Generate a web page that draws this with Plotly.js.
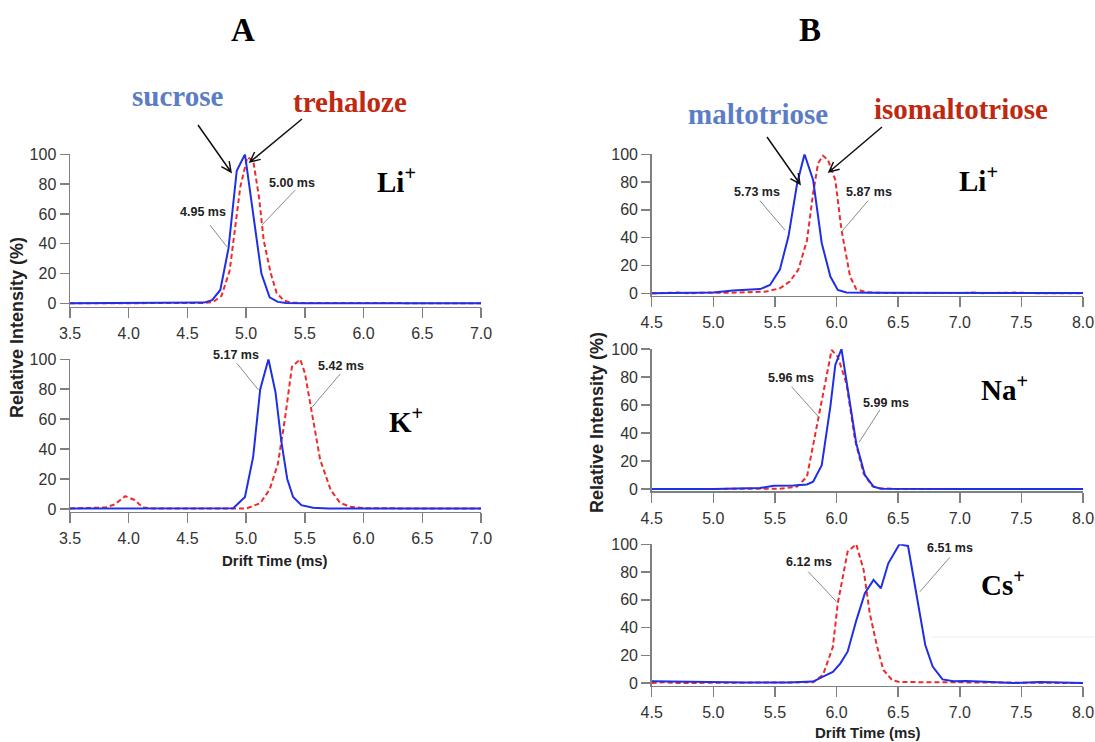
<!DOCTYPE html>
<html>
<head>
<meta charset="utf-8">
<script src="https://cdn.plot.ly/plotly-3.0.1.min.js"></script>
<style>html,body{margin:0;padding:0;background:#fff}#chart{width:1095px;height:742px}</style>
</head>
<body>
<div id="chart"></div>
<script>
// ---------- DATA ----------
// Panel A, Li+
const aLiSucroseX = [3.5, 4.0, 4.5, 4.64, 4.71, 4.78, 4.85, 4.92, 4.99, 5.06, 5.13, 5.20, 5.27, 5.34, 5.5, 6.0, 6.5, 7.0];
const aLiSucroseY = [0, 0, 0, 0.5, 2.2, 9, 37, 89, 100, 61, 20, 4, 1, 0.3, 0, 0, 0, 0];
const aLiTrehX = [3.5, 4.0, 4.5, 4.65, 4.72, 4.79, 4.86, 4.95, 5.01, 5.06, 5.11, 5.15, 5.21, 5.26, 5.32, 5.38, 5.5, 5.7, 5.9, 6.2, 6.6, 7.0];
const aLiTrehY = [0, 0, 0, 0.3, 1, 5, 22, 78, 98, 96, 71, 42, 20, 7, 2, 0.5, 0.2, 0.3, 0.4, 0.2, 0.1, 0];
// Panel A, K+
const aKSucroseX = [3.5, 4.0, 4.5, 4.89, 4.99, 5.06, 5.12, 5.19, 5.25, 5.30, 5.35, 5.40, 5.47, 5.57, 5.7, 6.0, 7.0];
const aKSucroseY = [0.3, 0.3, 0.3, 0.5, 8, 35, 80, 100, 78, 45, 20, 8, 2.5, 0.8, 0.3, 0.3, 0.3];
const aKTrehX = [3.5, 3.8, 3.88, 3.97, 4.05, 4.12, 4.2, 4.5, 5.0, 5.12, 5.20, 5.27, 5.33, 5.39, 5.46, 5.50, 5.56, 5.63, 5.72, 5.80, 5.89, 6.0, 6.5, 7.0];
const aKTrehY = [0.3, 1, 3, 8.5, 6, 1, 0.3, 0.3, 0.3, 3.8, 13, 30, 60, 95, 100, 91, 64, 33, 12.7, 4, 1.5, 0.5, 0.3, 0.3];
// Panel B, Li+
const bLiMaltX = [4.5, 4.8, 5.0, 5.16, 5.3, 5.38, 5.46, 5.54, 5.61, 5.68, 5.74, 5.81, 5.88, 5.95, 6.01, 6.08, 6.3, 6.6, 7.0, 7.5, 8.0];
const bLiMaltY = [0, 0.2, 0.5, 2, 2.5, 3, 6, 17, 41, 79, 100, 81.5, 36, 12, 2.4, 0.5, 0.3, 0.3, 0.3, 0.2, 0.2];
const bLiIsoX = [4.5, 4.7, 4.8, 4.95, 5.1, 5.3, 5.43, 5.54, 5.62, 5.69, 5.76, 5.81, 5.85, 5.89, 5.93, 5.99, 6.04, 6.11, 6.16, 6.24, 6.4, 7.0, 7.1, 7.2, 7.45, 7.6, 8.0];
const bLiIsoY = [0, 0.5, 0, 0.5, 0.3, 0.6, 1.2, 3.6, 8.4, 17, 38, 72, 93.5, 99, 96, 81.5, 45.6, 12, 3, 0.7, 0.2, 0.2, 0.5, 0.1, 0.5, 0.1, 0];
// Panel B, Na+
const bNaMaltX = [4.5, 5.0, 5.38, 5.49, 5.65, 5.76, 5.81, 5.88, 5.95, 5.99, 6.04, 6.09, 6.16, 6.23, 6.30, 6.36, 6.6, 7.0, 8.0];
const bNaMaltY = [0, 0, 0.7, 2.4, 2.6, 3.3, 5.2, 17, 59, 88.6, 100, 70.7, 32.6, 10, 1.7, 0.2, 0, 0, 0];
const bNaIsoX = [4.5, 5.5, 5.54, 5.68, 5.76, 5.84, 5.91, 5.96, 6.01, 6.08, 6.15, 6.22, 6.29, 6.35, 6.5, 8.0];
const bNaIsoY = [0, 0, 0.2, 1.7, 8.8, 45, 77, 99.3, 94.5, 75.5, 35, 11, 2, 0.5, 0, 0];
// Panel B, Cs+
const bCsMaltX = [4.5, 4.65, 4.81, 4.92, 5.27, 5.6, 5.81, 5.89, 5.97, 6.03, 6.09, 6.16, 6.23, 6.30, 6.36, 6.42, 6.51, 6.58, 6.65, 6.72, 6.78, 6.86, 6.95, 7.05, 7.16, 7.43, 7.65, 8.0];
const bCsMaltY = [1.2, 1, 0.5, 0.8, 0.3, 0.3, 1, 4.6, 8, 14, 22.6, 45, 64.7, 74.3, 68.3, 86.3, 100, 98.8, 62, 27.4, 11.8, 2.6, 1.2, 1.4, 1, 0, 0.7, 0];
const bCsIsoX = [4.5, 4.6, 4.7, 5.68, 5.81, 5.89, 5.97, 6.01, 6.09, 6.16, 6.22, 6.27, 6.33, 6.38, 6.45, 6.51, 7.0, 7.3, 7.7, 8.0];
const bCsIsoY = [0, 0.5, 0, 0, 0.5, 5.8, 26, 57.5, 94.7, 100, 81.5, 50, 26, 9.4, 2.2, 0.7, 0.5, 0.5, 0.3, 0];

// Peak drift-time labels
const peakLabels = ["4.95 ms", "5.00 ms", "5.17 ms", "5.42 ms", "5.73 ms", "5.87 ms", "5.96 ms", "5.99 ms", "6.12 ms", "6.51 ms"];
const ionLabels = ["Li<sup>+</sup>", "K<sup>+</sup>", "Li<sup>+</sup>", "Na<sup>+</sup>", "Cs<sup>+</sup>"];
const compoundLabels = ["sucrose", "trehaloze", "maltotriose", "isomaltotriose"];
const panelLabels = ["A", "B"];
const xTitle = "Drift Time (ms)";
const yTitle = "Relative Intensity (%)";

// ---------- STYLE / LAYOUT ----------
const W = 1095, H = 742;
const px = x => x / W;
const py = y => 1 - y / H;
const BLUE = '#1f2fe6', RED = '#ee2a2a';
const SANS = 'Liberation Sans, Arial, sans-serif';
const SERIF = 'Liberation Serif, Times New Roman, serif';

function blue(x, y, xa, ya) {
  return {x: x, y: y, xaxis: xa, yaxis: ya, type: 'scatter', mode: 'lines',
    line: {color: BLUE, width: 2}, hoverinfo: 'skip', showlegend: false, cliponaxis: false};
}
function red(x, y, xa, ya) {
  return {x: x, y: y, xaxis: xa, yaxis: ya, type: 'scatter', mode: 'lines',
    line: {color: RED, width: 2, dash: '5px,3px'}, hoverinfo: 'skip', showlegend: false, cliponaxis: false};
}

const traces = [
  red(aLiTrehX, aLiTrehY, 'x', 'y'), blue(aLiSucroseX, aLiSucroseY, 'x', 'y'),
  red(aKTrehX, aKTrehY, 'x2', 'y2'), blue(aKSucroseX, aKSucroseY, 'x2', 'y2'),
  red(bLiIsoX, bLiIsoY, 'x3', 'y3'), blue(bLiMaltX, bLiMaltY, 'x3', 'y3'),
  red(bNaIsoX, bNaIsoY, 'x4', 'y4'), blue(bNaMaltX, bNaMaltY, 'x4', 'y4'),
  red(bCsIsoX, bCsIsoY, 'x5', 'y5'), blue(bCsMaltX, bCsMaltY, 'x5', 'y5')
];

const tickFont = {family: SANS, size: 16, color: '#333'};
function xax(domain, range, anchor) {
  return {domain: domain, range: range, anchor: anchor, dtick: 0.5, tick0: 0, tickformat: '.1f',
    showline: true, linecolor: '#808080', linewidth: 1.5, ticks: 'outside', ticklen: 10,
    tickcolor: '#808080', tickwidth: 1.5, showgrid: false, zeroline: false, tickfont: tickFont,
    ticklabelstandoff: 2};
}
function yax(domain, range, anchor) {
  return {domain: domain, range: range, anchor: anchor, tickvals: [0, 20, 40, 60, 80, 100],
    showline: true, linecolor: '#808080', linewidth: 1.5, ticks: 'outside', ticklen: 9,
    tickcolor: '#808080', tickwidth: 1.5, showgrid: false, zeroline: false, tickfont: tickFont};
}

const axA = [px(70), px(481)];
const axB = [px(651.7), px(1083)];

const layout = {
  width: W, height: H, margin: {l: 0, r: 0, t: 0, b: 0},
  paper_bgcolor: '#fff', plot_bgcolor: 'rgba(0,0,0,0)', showlegend: false,
  xaxis: xax(axA, [3.5, 7.0], 'y'),
  yaxis: yax([py(306.5), py(154.3)], [-2.1, 100], 'x'),
  xaxis2: xax(axA, [3.5, 7.0], 'y2'),
  yaxis2: yax([py(511.5), py(359.3)], [-1.7, 100], 'x2'),
  xaxis3: xax(axB, [4.5, 8.0], 'y3'),
  yaxis3: yax([py(295.5), py(154.3)], [-1.6, 100], 'x3'),
  xaxis4: xax(axB, [4.5, 8.0], 'y4'),
  yaxis4: yax([py(491), py(349)], [-1.4, 100], 'x4'),
  xaxis5: xax(axB, [4.5, 8.0], 'y5'),
  yaxis5: yax([py(685.5), py(544.3)], [-1.8, 100], 'x5'),
  annotations: [],
  shapes: []
};

const ann = layout.annotations, shp = layout.shapes;
function paperText(text, x, y, font, extra) {
  ann.push(Object.assign({text: text, x: px(x), y: py(y), xref: 'paper', yref: 'paper',
    xanchor: 'center', yanchor: 'middle', showarrow: false, font: font}, extra || {}));
}
// Panel letters
paperText('<b>' + panelLabels[0] + '</b>', 243, 30, {family: SERIF, size: 33, color: '#000'});
paperText('<b>' + panelLabels[1] + '</b>', 810, 30, {family: SERIF, size: 33, color: '#000'});
// Compound names
const SBLUE = '#5b7dc6', SRED = '#c0280f';
paperText('<b>' + compoundLabels[0] + '</b>', 177, 96, {family: SERIF, size: 29, color: SBLUE});
paperText('<b>' + compoundLabels[1] + '</b>', 350, 102, {family: SERIF, size: 29, color: SRED});
paperText('<b>' + compoundLabels[2] + '</b>', 758, 114, {family: SERIF, size: 29, color: SBLUE});
paperText('<b>' + compoundLabels[3] + '</b>', 961, 109, {family: SERIF, size: 29, color: SRED});
// Ion labels
const ionFont = {family: SERIF, size: 29, color: '#000'};
paperText('<b>' + ionLabels[0] + '</b>', 396, 180, ionFont);
paperText('<b>' + ionLabels[1] + '</b>', 406, 420, ionFont);
paperText('<b>' + ionLabels[2] + '</b>', 978, 179, ionFont);
paperText('<b>' + ionLabels[3] + '</b>', 1004, 388, ionFont);
paperText('<b>' + ionLabels[4] + '</b>', 1003, 583, ionFont);
// Axis titles
const titleFont = {family: SANS, size: 15, color: '#222'};
const yTitleFont = {family: SANS, size: 18, color: '#222'};
paperText('<b>' + xTitle + '</b>', 275, 560, titleFont);
paperText('<b>' + xTitle + '</b>', 868, 732, titleFont);
paperText('<b>' + yTitle + '</b>', 17, 328, yTitleFont, {textangle: -90});
paperText('<b>' + yTitle + '</b>', 597, 423, yTitleFont, {textangle: -90});

// Peak labels with grey leader lines (data coordinates); yshift in px for labels above the axis top
const peakSpec = [
  // [label idx, xref, yref, tx, ty, yshift, x0, y0, x1, y1]
  [0, 'x', 'y', 4.634, 61.5, 0, 4.693, 52.5, 4.836, 38],
  [1, 'x', 'y', 5.389, 81, 0, 5.418, 76, 5.134, 52.5],
  [2, 'x2', 'y2', 4.911, 100, 4.3, 4.921, 97.3, 5.105, 79.5],
  [3, 'x2', 'y2', 5.804, 95.7, 0, 5.801, 90.2, 5.56, 67.9],
  [4, 'x3', 'y3', 5.355, 72.7, 0, 5.378, 66.6, 5.581, 45.5],
  [5, 'x3', 'y3', 6.264, 72.7, 0, 6.256, 66.6, 6.041, 44.3],
  [6, 'x4', 'y4', 5.628, 79, 0, 5.635, 73.1, 5.865, 50.5],
  [7, 'x4', 'y4', 6.402, 61.6, 0, 6.351, 56.4, 6.183, 33.4],
  [8, 'x5', 'y5', 5.773, 87.5, 0, 5.770, 80.3, 6.0, 58.6],
  [9, 'x5', 'y5', 6.919, 97.5, 0, 6.919, 90.6, 6.676, 65.8]
];
peakSpec.forEach(s => {
  ann.push({text: '<b>' + peakLabels[s[0]] + '</b>', xref: s[1], yref: s[2], x: s[3], y: s[4], yshift: s[5],
    showarrow: false, xanchor: 'center', yanchor: 'middle',
    font: {family: SANS, size: 12.5, color: '#222'}});
  shp.push({type: 'line', xref: s[1], yref: s[2], x0: s[6], y0: s[7], x1: s[8], y1: s[9],
    line: {color: '#8a8a8a', width: 1}});
});

// Black arrows from compound names (pixel positions -> paper)
function arrow(x0, y0, x1, y1) {
  const ang = Math.atan2(y1 - y0, x1 - x0), L = 11, a = 0.45;
  const hx1 = x1 - L * Math.cos(ang - a), hy1 = y1 - L * Math.sin(ang - a);
  const hx2 = x1 - L * Math.cos(ang + a), hy2 = y1 - L * Math.sin(ang + a);
  const p = (x, y) => px(x).toFixed(5) + ',' + py(y).toFixed(5);
  shp.push({type: 'path', xref: 'paper', yref: 'paper',
    path: 'M' + p(x0, y0) + 'L' + p(x1, y1) + 'M' + p(hx1, hy1) + 'L' + p(x1, y1) + 'L' + p(hx2, hy2),
    line: {color: '#111', width: 1.5}});
}
arrow(198, 125, 231, 172);
arrow(302, 119, 250, 162);
arrow(767, 137, 800, 184);
arrow(882, 127, 829, 172);

// faint scan artifact line in Cs+ panel
shp.push({type: 'line', xref: 'paper', yref: 'paper', x0: px(932), y0: py(637), x1: px(1095), y1: py(637),
  line: {color: '#ececec', width: 1}});

Plotly.newPlot('chart', traces, layout, {staticPlot: true, displayModeBar: false});
</script>
</body>
</html>
